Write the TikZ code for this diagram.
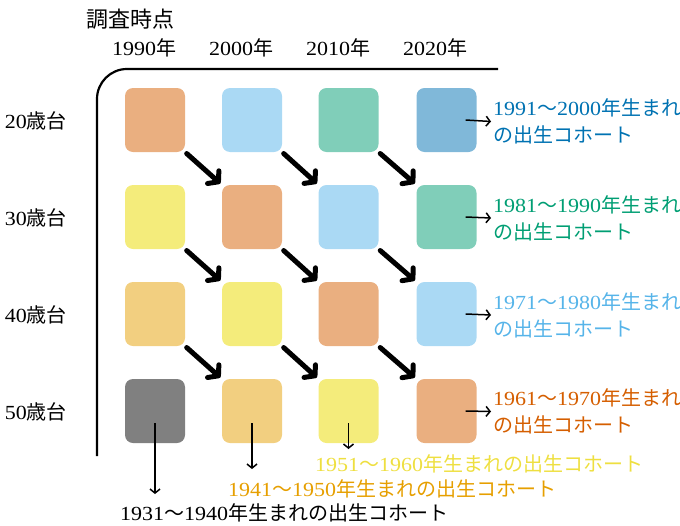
\documentclass[tikz,border=0pt]{standalone}
\usepackage{fontspec}
\setmainfont{Liberation Serif}[FakeStretch=1.1]
\newfontfamily\jpf{Noto Sans CJK JP}
\newcommand{\jp}[1]{{\jpf #1}}
\usetikzlibrary{arrows.meta}
\definecolor{cVer}{HTML}{D55E00}
\definecolor{cSky}{HTML}{56B4E9}
\definecolor{cGrn}{HTML}{009E73}
\definecolor{cBlu}{HTML}{0072B2}
\definecolor{cYel}{HTML}{F0E442}
\definecolor{cOra}{HTML}{E69F00}
\definecolor{cYelTxt}{HTML}{EEDF40}
\tikzset{
  sq/.style={rectangle, rounded corners=8pt, minimum width=60pt, minimum height=64pt, draw=none, inner sep=0pt},
  bigarrow/.style={line width=5pt, line cap=round, line join=round, -{Straight Barb[length=7pt,width=17pt,line cap=round,line join=round]}},
  thinarrow/.style={line width=1.5pt, -{Straight Barb[length=4pt,width=10pt]}},
  lbl/.style={inner sep=0pt, font=\fontsize{20}{27}\selectfont},
  cohort/.style={lbl, anchor=west, align=left},
}
\begin{document}
\begin{tikzpicture}[x=1pt,y=-1pt]
\useasboundingbox (0,0) rectangle (680,525);
% frame
\draw[line width=2.2pt, rounded corners=30pt] (97,456) -- (97,69) -- (498,69);
% headings
\node[inner sep=0pt, font=\fontsize{22}{22}\selectfont\jpf] (title) at (130,19) {調査時点};
\node[lbl] (y1) at (144,48) {1990\jp{年}};
\node[lbl] (y2) at (241,48) {2000\jp{年}};
\node[lbl] (y3) at (338,48) {2010\jp{年}};
\node[lbl] (y4) at (435,48) {2020\jp{年}};
\node[lbl] (a1) at (36,121) {20\jp{歳台}};
\node[lbl] (a2) at (36,218) {30\jp{歳台}};
\node[lbl] (a3) at (36,315) {40\jp{歳台}};
\node[lbl] (a4) at (36,412) {50\jp{歳台}};
% squares
\node[sq, fill=cVer!50] (s11) at (155,120) {};
\node[sq, fill=cSky!50] (s12) at (252,120) {};
\node[sq, fill=cGrn!50] (s13) at (348.5,120) {};
\node[sq, fill=cBlu!50] (s14) at (446.5,120) {};
\node[sq, fill=cYel!70] (s21) at (155,217) {};
\node[sq, fill=cVer!50] (s22) at (252,217) {};
\node[sq, fill=cSky!50] (s23) at (348.5,217) {};
\node[sq, fill=cGrn!50] (s24) at (446.5,217) {};
\node[sq, fill=cOra!50] (s31) at (155,314) {};
\node[sq, fill=cYel!70] (s32) at (252,314) {};
\node[sq, fill=cVer!50] (s33) at (348.5,314) {};
\node[sq, fill=cSky!50] (s34) at (446.5,314) {};
\node[sq, fill=black!50] (s41) at (155,411) {};
\node[sq, fill=cOra!50] (s42) at (252,411) {};
\node[sq, fill=cYel!70] (s43) at (348.5,411) {};
\node[sq, fill=cVer!50] (s44) at (446.5,411) {};
% diagonal arrows
\foreach \r/\n in {1/2,2/3,3/4}{
  \foreach \c/\d in {1/2,2/3,3/4}{
    \draw[bigarrow, shorten <=2pt, shorten >=2pt] (s\r\c.south east) -- (s\n\d.north west);
  }
}
% right cohort labels
\node[cohort, text=cBlu] (r1) at (493,121.5) {1991\jp{～}2000\jp{年生まれ}\\\jp{の出生コホート}};
\node[cohort, text=cGrn] (r2) at (493,218) {1981\jp{～}1990\jp{年生まれ}\\\jp{の出生コホート}};
\node[cohort, text=cSky] (r3) at (493,315) {1971\jp{～}1980\jp{年生まれ}\\\jp{の出生コホート}};
\node[cohort, text=cVer] (r4) at (493,411.5) {1961\jp{～}1970\jp{年生まれ}\\\jp{の出生コホート}};
\draw[thinarrow] ([xshift=-11pt]s14.east) -- ([xshift=-2pt]r1.west);
\draw[thinarrow] ([xshift=-11pt]s24.east) -- ([xshift=-2pt]r2.west);
\draw[thinarrow] ([xshift=-11pt]s34.east) -- ([xshift=-2pt]r3.west);
\draw[thinarrow] ([xshift=-11pt]s44.east) -- ([xshift=-2pt]r4.west);
% bottom cohort labels
\node[cohort, text=cYelTxt] (b3) at (315,464) {1951\jp{～}1960\jp{年生まれの出生コホート}};
\node[cohort, text=cOra] (b2) at (228,489) {1941\jp{～}1950\jp{年生まれの出生コホート}};
\node[cohort, text=black] (b1) at (120,513) {1931\jp{～}1940\jp{年生まれの出生コホート}};
\coordinate (e1) at (155,494);
\coordinate (e2) at (252,469);
\coordinate (e3) at (348.5,449);
\draw[thinarrow] ([yshift=-12pt]s41.center) -- (e1);
\draw[thinarrow] ([yshift=-12pt]s42.center) -- (e2);
\draw[thinarrow] ([yshift=-12pt]s43.center) -- (e3);
\end{tikzpicture}
\end{document}
